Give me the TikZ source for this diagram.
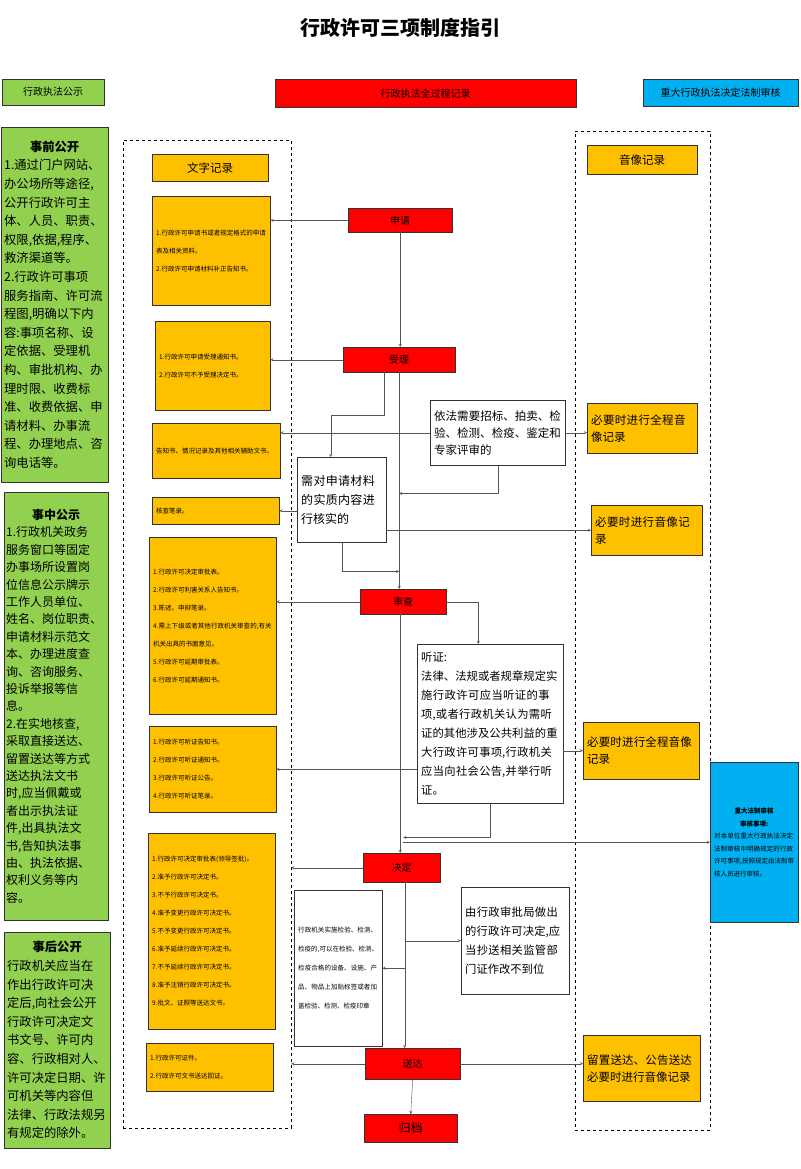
\documentclass[tikz,border=0pt]{standalone}
\usepackage{fontspec}
\setmainfont{Noto Sans CJK SC}
\XeTeXlinebreaklocale "zh"
\XeTeXlinebreakskip=0pt plus 1pt
\usetikzlibrary{positioning}

\definecolor{gpub}{HTML}{92D050}
\definecolor{ylw}{HTML}{FFC000}
\definecolor{bluebx}{HTML}{00B0F0}
\definecolor{lnc}{HTML}{555555}

\tikzset{
  box/.style={draw=black!80, anchor=north west, inner sep=3pt, align=left},
  redbox/.style={box, fill=red, align=center, font=\fontsize{10}{12}\selectfont},
  ybox/.style={box, fill=ylw, font=\fontsize{6.5}{18}\selectfont},
  ytext/.style={box, fill=ylw, font=\fontsize{11.5}{17}\selectfont},
  gbox/.style={box, fill=gpub, font=\fontsize{12.3}{18.6}\selectfont},
  wbox/.style={box, fill=white, font=\fontsize{11.5}{17}\selectfont},
  region/.style={draw, dashed, anchor=north west, inner sep=0pt},
  arr/.style={->, >=stealth, draw=lnc, thin},
  ln/.style={draw=lnc, thin}
}

\begin{document}
\begin{tikzpicture}[x=1pt, y=-1pt]
  \useasboundingbox[fill=white] (0,0) rectangle (800,1169);

  \node[font=\fontsize{20}{24}\selectfont\bfseries] (title) at (400,28) {行政许可三项制度指引};

  % headers
  \node[box, fill=gpub, minimum width=102, minimum height=26, align=center, font=\fontsize{10}{12}\selectfont] (hg) at (2,79) {行政执法公示};
  \node[box, fill=red, minimum width=301, minimum height=28, align=center, font=\fontsize{10}{12}\selectfont] (hr) at (275,79) {行政执法全过程记录};
  \node[box, fill=bluebx, minimum width=155, minimum height=27, align=center, font=\fontsize{10}{12}\selectfont] (hb) at (643,79) {重大行政执法决定法制审核};

  % dashed regions
  \node[region, minimum width=168, minimum height=988] (dl) at (123,140) {};
  \node[region, minimum width=135, minimum height=999] (dr) at (575,131) {};

  % public boxes
  \node[gbox, minimum width=107, minimum height=355, text width=101] (g1) at (1,127) {{\centering\textbf{事前公开}\par}
    1.通过门户网站、\\办公场所等途径,\\公开行政许可主\\体、人员、职责、\\权限,依据,程序、\\救济渠道等。\\2.行政许可事项\\服务指南、许可流\\程图,明确以下内\\容:事项名称、设\\定依据、受理机\\构、审批机构、办\\理时限、收费标\\准、收费依据、申\\请材料、办事流\\程、办理地点、咨\\询电话等。};
  \node[gbox, minimum width=104, minimum height=428, text width=100, inner sep=2pt, font=\fontsize{12}{17.4}\selectfont] (g2) at (4,492) {{\centering\textbf{事中公示}\par}
    1.行政机关政务\\服务窗口等固定\\办事场所设置岗\\位信息公示牌示\\工作人员单位、\\姓名、岗位职责、\\申请材料示范文\\本、办理进度查\\询、咨询服务、\\投诉举报等信\\息。\\2.在实地核查,\\采取直接送达、\\留置送达等方式\\送达执法文书\\时,应当佩戴或\\者出示执法证\\件,出具执法文\\书,告知执法事\\由、执法依据、\\权利义务等内\\容。};
  \node[gbox, minimum width=106, minimum height=216, text width=100] (g3) at (4,932) {{\centering\textbf{事后公开}\par}
    行政机关应当在\\作出行政许可决\\定后,向社会公开\\行政许可决定文\\书文号、许可内\\容、行政相对人、\\许可决定日期、许\\可机关等内容但\\法律、行政法规另\\有规定的除外。};

  % record headings
  \node[ytext, minimum width=116, minimum height=27, align=center] (wz) at (152,154) {文字记录};
  \node[ytext, minimum width=110, minimum height=29, align=center] (yx) at (587,145) {音像记录};

  % written records
  \node[ybox, minimum width=118, minimum height=109, text width=110] (y1) at (152,196) {1.行政许可申请书或者规定格式的申请表及相关资料。\\2.行政许可申请材料补正告知书。};
  \node[ybox, minimum width=115, minimum height=89, text width=107] (y2) at (155,321) {1.行政许可申请受理通知书。\\2.行政许可不予受理决定书。};
  \node[ybox, minimum width=128, minimum height=55, text width=120] (y3) at (152,423) {告知书、情况记录及其他相关辅助文书。};
  \node[ybox, minimum width=127, minimum height=27, text width=119] (y4) at (152,497) {核查笔录。};
  \node[ybox, minimum width=127, minimum height=177, text width=119] (y5) at (149,537) {1.行政许可决定审批表。\\2.行政许可利害关系人告知书。\\3.陈述、申辩笔录。\\4.需上下级或者其他行政机关审查的,有关机关出具的书面意见。\\5.行政许可延期审批表。\\6.行政许可延期通知书。};
  \node[ybox, minimum width=127, minimum height=86, text width=119] (y6) at (149,726) {1.行政许可听证告知书。\\2.行政许可听证通知书。\\3.行政许可听证公告。\\4.行政许可听证笔录。};
  \node[ybox, minimum width=127, minimum height=196, text width=119] (y7) at (148,833) {1.行政许可决定审批表(领导签批)。\\2.准予行政许可决定书。\\3.不予行政许可决定书。\\4.准予变更行政许可决定书。\\5.不予变更行政许可决定书。\\6.准予延续行政许可决定书。\\7.不予延续行政许可决定书。\\8.准予注销行政许可决定书。\\9.批文、证照等送达文书。};
  \node[ybox, minimum width=127, minimum height=48, text width=119] (y8) at (146,1043) {1.行政许可证件。\\2.行政许可文书送达回证。};

  % main steps
  \node[redbox, minimum width=104, minimum height=24] (sq) at (348,208) {申请};
  \node[redbox, minimum width=112, minimum height=25] (sl) at (343,347) {受理};
  \node[redbox, minimum width=86, minimum height=25] (sc) at (360,589) {审查};
  \node[redbox, minimum width=77, minimum height=29] (jd) at (363,853) {决定};
  \node[redbox, minimum width=95, minimum height=31] (sd) at (365,1048) {送达};
  \node[redbox, minimum width=93, minimum height=28, font=\fontsize{12}{14}\selectfont] (gd) at (364,1114) {归档};

  % side cases
  \node[wbox, minimum width=135, minimum height=65, text width=127] (yf) at (430,400) {依法需要招标、拍卖、检验、检测、检疫、鉴定和专家评审的};
  \node[wbox, minimum width=89, minimum height=85, text width=81, font=\fontsize{12}{19}\selectfont] (hs) at (297,457) {需对申请材料的实质内容进行核实的};
  \node[wbox, minimum width=146, minimum height=159, text width=138, font=\fontsize{11.3}{19}\selectfont] (tz) at (417,644) {听证:\\法律、法规或者规章规定实施行政许可应当听证的事项,或者行政机关认为需听证的其他涉及公共利益的重大行政许可事项,行政机关应当向社会公告,并举行听证。};
  \node[wbox, minimum width=88, minimum height=156, text width=80, font=\fontsize{6.5}{19}\selectfont] (xj) at (294,890) {行政机关实施检验、检测、检疫的,可以在检验、检测、检疫合格的设备、设施、产品、物品上加贴标签或者加盖检验、检测、检疫印章};
  \node[wbox, minimum width=108, minimum height=107, text width=100, font=\fontsize{11.3}{19}\selectfont] (yz) at (461,887) {由行政审批局做出的行政许可决定,应当抄送相关监管部门证作改不到位};

  % audio-video records
  \node[ytext, minimum width=110, minimum height=50, text width=102] (r1) at (587,403) {必要时进行全程音像记录};
  \node[ytext, minimum width=111, minimum height=50, text width=103] (r2) at (591,505) {必要时进行音像记录};
  \node[ytext, minimum width=116, minimum height=57, text width=108] (r3) at (583,722) {必要时进行全程音像记录};
  \node[ytext, minimum width=117, minimum height=66, text width=109] (r4) at (583,1035) {留置送达、公告送达必要时进行音像记录};

  % legal review
  \node[box, fill=bluebx, minimum width=88, minimum height=160, text width=80, font=\fontsize{6.5}{12.5}\selectfont] (bl) at (710,762) {{\centering\textbf{重大法制审核}\par\textbf{审核事项:}\par}对本单位重大行政执法决定法制审核中明确规定的行政许可事项,按照规定由法制审核人员进行审核。};

  % flow
  \draw[arr] (sq.south) -- (sq.south |- sl.north);
  \draw[arr] (sl.south) -- (sl.south |- sc.north);
  \draw[arr] ([xshift=-15pt]sl.south) -- ++(0,43) -| ([xshift=-11pt]hs.north);
  \draw[arr] (yf.south) -- ++(0,28) coordinate (t1) -- (t1 -| sl.south);
  \draw[arr] (hs.south) -- ++(0,29) coordinate (t2) -- (t2 -| sl.south);
  \draw[arr] (sc.east) -| ([xshift=-12pt]tz.north);
  \draw[arr] ([xshift=-3pt]sc.south) -- ([xshift=-3pt]sc.south |- jd.north);
  \draw[arr] (tz.south) -- ++(0,34) coordinate (t3) -- (t3 -| sc.south);
  \draw[arr] (bl.west -| sc.south) -- (bl.west);
  \draw[arr] ([xshift=3pt]jd.south) -- ([xshift=3pt]jd.south |- sd.north) coordinate (t4);
  \draw[arr] (yz.west -| t4) -- (yz.west);
  \draw[arr] (xj.east -| t4) -- (xj.east);
  \draw[arr] (sd.south) -- (gd.north);

  % to written records
  \draw[arr] (sq.west) -- (sq.west -| y1.east);
  \draw[arr] (sl.west) -- (sl.west -| y2.east);
  \draw[arr] (yf.west) -- (yf.west -| y3.east);
  \draw[arr] (y4.east -| hs.west) -- (y4.east);
  \draw[arr] (sc.west) -- (sc.west -| y5.east);
  \draw[arr] (tz.west |- y6.east) -- (y6.east);
  \draw[arr] (jd.west) -- (jd.west -| dl.east);
  \draw[arr] (sd.west) -- (sd.west -| dl.east);

  % to audio-video records
  \draw[arr] (yf.east) -- (yf.east -| r1.west);
  \draw[arr] (hs.east |- r2.west) -- (r2.west);
  \draw[arr] (tz.east |- r3.west) -- (r3.west);
  \draw[arr] (sd.east) -- (sd.east -| r4.west);
\end{tikzpicture}
\end{document}
